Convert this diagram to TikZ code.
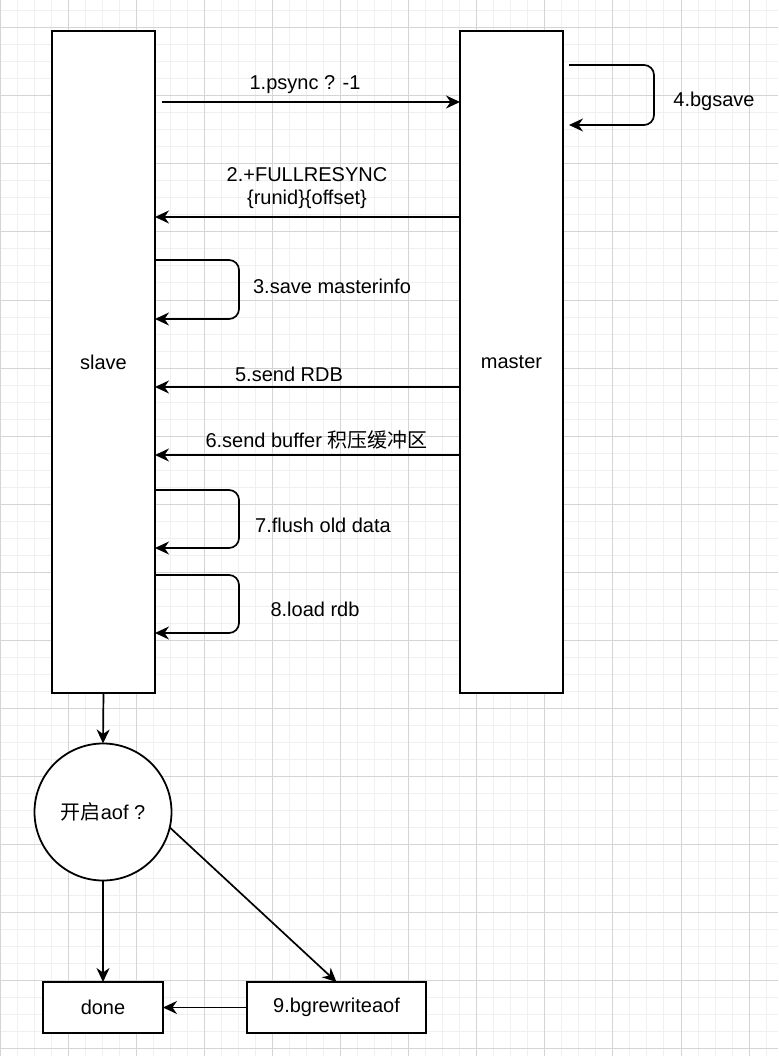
\documentclass[tikz,border=0pt]{standalone}
\usepackage{fontspec}
\setmainfont{Liberation Sans}
\newfontfamily\cjk{Noto Sans CJK SC}
\usetikzlibrary{arrows.meta,calc}
\begin{document}
\begin{tikzpicture}[x=1pt,y=-1pt,
  minorgrid/.style={draw=black!6,line width=1pt},
  majorgrid/.style={draw=black!17,line width=1pt},
  box/.style={draw=black,line width=1.8pt,fill=white,inner sep=0pt,outer sep=0pt,font=\fontsize{20}{23}\selectfont},
  lbl/.style={inner sep=0pt,font=\fontsize{20}{23}\selectfont,align=center},
  arr/.style={draw=black,line width=1.7pt,-{Stealth[length=14pt,width=13pt,inset=4.5pt]}},
  selfloop/.style={arr,rounded corners=10pt}]
\useasboundingbox (0,0) rectangle (778,1056);
\fill[white] (0,0) rectangle (778,1056);
% grid
\foreach \i in {0,...,46} \draw[minorgrid] ({\i*17.025},0) -- ({\i*17.025},1056);
\foreach \j in {-1,...,61} \draw[minorgrid] (0,{28+\j*17}) -- (778,{28+\j*17});
\foreach \i in {0,...,11} \draw[majorgrid] ({\i*68.1},0) -- ({\i*68.1},1056);
\foreach \j in {0,...,15} \draw[majorgrid] (0,{28+\j*68}) -- (778,{28+\j*68});
% main boxes
\node[box,minimum width=103pt,minimum height=662pt] (slave) at (103.5,362) {slave};
\node[box,minimum width=103pt,minimum height=662pt] (master) at (511.5,362) {master};
\node[box,circle,minimum size=137pt] (aof) at (103,812) {{\cjk 开启}aof ?};
\node[box,minimum width=120pt,minimum height=51pt] (done) at (103,1007.5) {done};
\node[box,minimum width=179pt,minimum height=51pt] (rewrite) at (336.5,1007.5) {9.bgrewriteaof};
% messages
\draw[arr] ($(slave.east |- 0,102)+(7,0)$) -- (master.west |- 0,102);
\draw[selfloop] ($(master.east |- 0,65)+(6,0)$) -- (654,65) -- (654,125) -- ($(master.east |- 0,125)+(6,0)$);
\draw[arr] (master.west |- 0,217) -- (slave.east |- 0,217);
\draw[selfloop] (slave.east |- 0,260) -- (239,260) -- (239,319) -- (slave.east |- 0,319);
\draw[arr] (master.west |- 0,387) -- (slave.east |- 0,387);
\draw[arr] (master.west |- 0,455) -- (slave.east |- 0,455);
\draw[selfloop] (slave.east |- 0,490) -- (239,490) -- (239,548) -- (slave.east |- 0,548);
\draw[selfloop] (slave.east |- 0,575) -- (239,575) -- (239,633) -- (slave.east |- 0,633);
% labels
\node[lbl,anchor=base] (l1) at (305,90) {1.psync ? -1};
\node[lbl,anchor=base] (l2) at (307,205) {2.+FULLRESYNC\\\{runid\}\{offset\}};
\node[lbl,anchor=base] (l3) at (332,294) {3.save masterinfo};
\node[lbl,anchor=base] (l4) at (714,107) {4.bgsave};
\node[lbl,anchor=base] (l5) at (289,381) {5.send RDB};
\node[lbl,anchor=base] (l6) at (316.5,447) {6.send buffer {\cjk 积压缓冲区}};
\node[lbl,anchor=base] (l7) at (323,532) {7.flush old data};
\node[lbl,anchor=base] (l8) at (315,616) {8.load rdb};
% lower flow
\draw[arr] (slave.south) -- (aof.north);
\draw[arr] (aof.south) -- (done.north);
\draw[arr] (aof.-13) -- (rewrite.north);
\draw[arr] (rewrite.west) -- (done.east);
\end{tikzpicture}
\end{document}
